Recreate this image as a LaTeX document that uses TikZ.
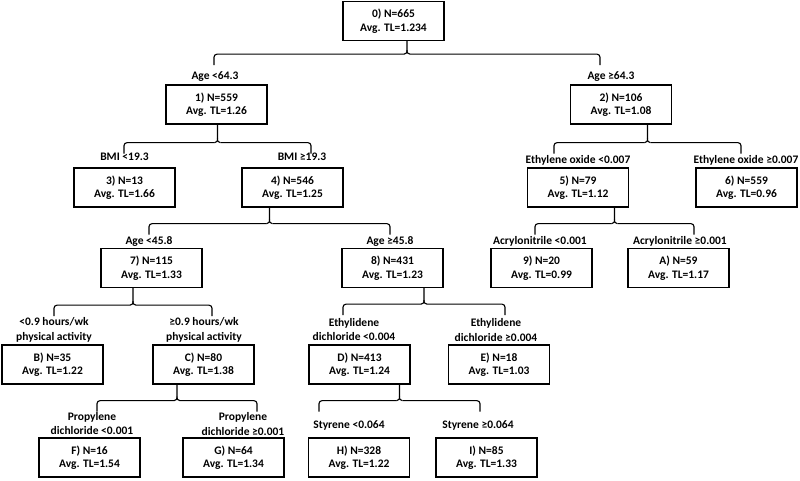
\documentclass[tikz,border=0pt]{standalone}
\usepackage{fontspec}
\setmainfont{Carlito}
\usetikzlibrary{positioning, calc}

\begin{document}
\begin{tikzpicture}[x=1pt, y=1pt,
    box/.style={draw, line width=1.3pt, minimum width=101pt, minimum height=39pt,
        inner sep=0pt, align=center, font=\bfseries\fontsize{11.5}{13.5}\selectfont},
    cond/.style={inner sep=0pt, align=center, font=\bfseries\fontsize{11.5}{14.5}\selectfont},
    split/.style={line width=1.1pt}]
        \useasboundingbox (0,0) rectangle (800,-480);

        % Tree nodes
        \node[box] (n0) at (393.5,-21) {0) N=665\\Avg. TL=1.234};
        \node[box] (n1) at (216.5,-104.5) {1) N=559\\Avg. TL=1.26};
        \node[box] (n2) at (621,-104.5) {2) N=106\\Avg. TL=1.08};
        \node[box] (n3) at (124.5,-187.5) {3) N=13\\Avg. TL=1.66};
        \node[box] (n4) at (292.5,-187.5) {4) N=546\\Avg. TL=1.25};
        \node[box] (n5) at (578,-187.5) {5) N=79\\Avg. TL=1.12};
        \node[box] (n6) at (746.5,-187.5) {6) N=559\\Avg. TL=0.96};
        \node[box] (n7) at (151.5,-268) {7) N=115\\Avg. TL=1.33};
        \node[box] (n8) at (392.5,-268) {8) N=431\\Avg. TL=1.23};
        \node[box] (n9) at (541.5,-268) {9) N=20\\Avg. TL=0.99};
        \node[box] (nA) at (678.5,-268) {A) N=59\\Avg. TL=1.17};
        \node[box] (nB) at (52.5,-364.5) {B) N=35\\Avg. TL=1.22};
        \node[box] (nC) at (203.5,-364.5) {C) N=80\\Avg. TL=1.38};
        \node[box] (nD) at (359.5,-364.5) {D) N=413\\Avg. TL=1.24};
        \node[box] (nE) at (499,-364.5) {E) N=18\\Avg. TL=1.03};
        \node[box] (nF) at (89.5,-457.5) {F) N=16\\Avg. TL=1.54};
        \node[box] (nG) at (233.5,-457.5) {G) N=64\\Avg. TL=1.34};
        \node[box] (nH) at (359,-457.5) {H) N=328\\Avg. TL=1.22};
        \node[box] (nI) at (486.5,-457.5) {I) N=85\\Avg. TL=1.33};

        % Split conditions
        \node[cond] (c1) at (215,-77) {Age <64.3};
        \node[cond] (c2) at (611,-77) {Age ≥64.3};
        \node[cond] (c3) at (124.5,-157) {BMI <19.3};
        \node[cond] (c4) at (302,-157) {BMI ≥19.3};
        \node[cond] (c5) at (578,-160) {Ethylene oxide <0.007};
        \node[cond] (c6) at (746,-160) {Ethylene oxide ≥0.007};
        \node[cond] (c7) at (149,-241) {Age <45.8};
        \node[cond] (c8) at (390,-241) {Age ≥45.8};
        \node[cond] (c9) at (540,-241) {Acrylonitrile <0.001};
        \node[cond] (cA) at (680,-241) {Acrylonitrile ≥0.001};
        \node[cond] (cB) at (54,-330) {<0.9 hours/wk\\physical activity};
        \node[cond] (cC) at (204,-330) {≥0.9 hours/wk\\physical activity};
        \node[cond] (cD) at (354,-329.5) {Ethylidene\\dichloride <0.004};
        \node[cond] (cE) at (496,-330) {Ethylidene\\dichloride ≥0.004};
        \node[cond] (cF) at (92,-423.5) {Propylene\\dichloride <0.001};
        \node[cond] (cG) at (243,-424) {Propylene\\dichloride ≥0.001};
        \node[cond] (cH) at (349,-425) {Styrene <0.064};
        \node[cond] (cI) at (478,-425) {Styrene ≥0.064};

        % Braces below each split node
        \foreach \p/\xl/\xr/\dh in {n0/214/600/13, n1/124/311/18, n2/554/741/18,
            n4/149/390/16, n5/535/694/16, n7/54/212/17, n8/343/505/16,
            nC/97/257/16, nD/319/480/16} {
            \pgfmathsetmacro{\xm}{(\xl+\xr)/2}
            \coordinate (tip) at (\xm,0 |- \p.south);
            \coordinate (mid) at ($(tip)+(0,-\dh)$);
            \draw[split, rounded corners=3pt] ($(\xl,0 |- mid)+(0,-11)$) |- ($(mid)+(-3,0)$);
            \draw[split, rounded corners=3pt] ($(\xr,0 |- mid)+(0,-11)$) |- ($(mid)+(3,0)$);
            \draw[split] (tip) -- ($(mid)+(0,4)$) .. controls ($(mid)+(0,1)$) .. ($(mid)+(-3,0)$);
            \draw[split] ($(mid)+(0,4)$) .. controls ($(mid)+(0,1)$) .. ($(mid)+(3,0)$);
        }
\end{tikzpicture}
\end{document}
